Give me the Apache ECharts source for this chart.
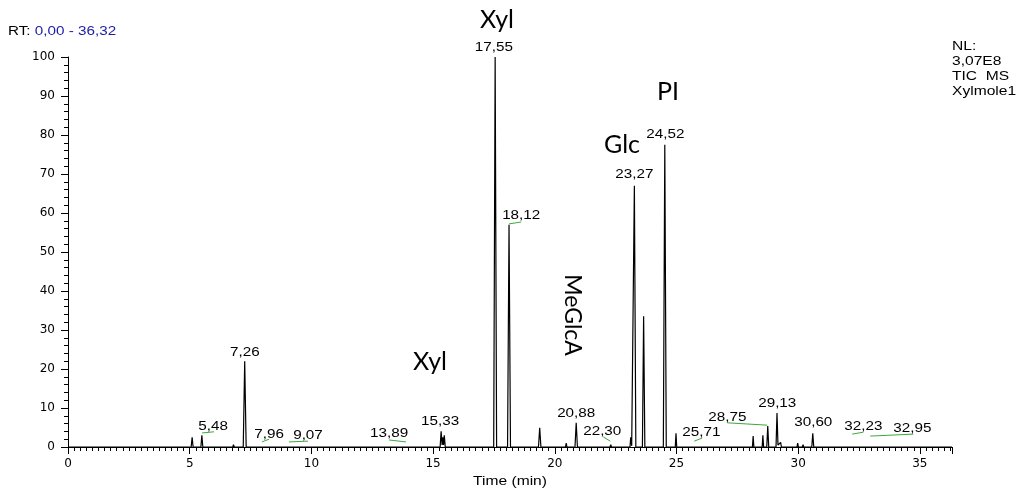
<!DOCTYPE html>
<html><head><meta charset="utf-8">
<script src="https://cdn.jsdelivr.net/npm/echarts@6/dist/echarts.min.js"></script>
<style>html,body{margin:0;padding:0;background:#fff}#c{width:1017px;height:492px}</style>
</head><body><div id="c"></div>
<script>
// Chromatogram trace (time in min, relative abundance %)
const traceTime = [0,
 5.06,5.10,5.14, 5.46,5.50,5.54, 6.77,6.80,6.83, 7.20,7.26,7.32,
 12.77,12.80,12.83, 15.29,15.33,15.37,15.40,15.43,15.46,15.50,
 17.49,17.55,17.61, 18.06,18.12,18.18, 19.33,19.38,19.43,
 20.44,20.47,20.50, 20.83,20.88,20.93, 21.28,21.30,21.32, 21.58,21.60,21.62,
 22.27,22.30,22.33, 23.09,23.12,23.16, 23.21,23.27,23.33, 23.60,23.65,23.70,
 24.46,24.52,24.58, 24.95,24.98,25.01, 25.68,25.71,25.74,
 28.12,28.15,28.18, 28.52,28.55,28.58, 28.71,28.75,28.79,
 29.09,29.13,29.17,29.25,29.28,29.31, 29.60,29.63,29.66, 29.95,29.98,30.01,
 30.17,30.20,30.23, 30.56,30.60,30.64, 36.32];
const traceIntensity = [0,
 0,2.5,0, 0,3.0,0, 0,0.6,0, 0,22,0,
 0,0.5,0, 0,4.0,0.5,2.5,0.5,3.0,0,
 0,100,0, 0,57,0, 0,4.9,0,
 0,1.0,0, 0,6.2,0, 0,0.3,0, 0,0.3,0,
 0,0.6,0, 0,2.5,0.3, 0,67,0, 0,33.5,0,
 0,77.5,0, 0,3.5,0, 0,0.5,0,
 0,2.8,0, 0,3.0,0, 0,5.4,0,
 0,8.7,0.5,0,1.2,0, 0,0.5,0, 0,1.0,0,
 0,0.6,0, 0,3.5,0, 0];

// Peak labels (text, anchor time, anchor intensity)
const peakLabelText = ["5,48","7,26","7,96","9,07","13,89","15,33","17,55","18,12","20,88","22,30","23,27","24,52","25,71","28,75","29,13","30,60","32,23","32,95"];
const peakLabelTime = [5.96,7.27,8.26,9.86,13.19,15.29,17.50,18.62,20.88,21.95,23.27,24.54,26.02,27.09,29.14,30.62,32.68,34.69];
const peakLabelInt  = [5.1,24.1,3.1,2.8,3.3,6.4,102.3,59.2,8.5,3.8,69.7,80.0,3.6,7.4,11.0,6.2,5.1,4.6];

// Green baseline segments
const baseSegStartT = [5.51,7.97,9.08,13.19,18.12,21.99,25.73,27.09,32.22,32.96];
const baseSegStartI = [3.6,1.3,1.3,1.8,57.2,2.6,1.5,6.2,3.3,2.8];
const baseSegEndT   = [6.00,8.26,9.86,13.89,18.62,22.28,26.06,28.73,32.68,34.73];
const baseSegEndI   = [3.9,2.0,1.5,1.3,57.7,1.5,2.3,5.6,3.8,3.3];

const xTicks = [0,5,10,15,20,25,30,35];
const yTicks = [0,10,20,30,40,50,60,70,80,90,100];

const chart = echarts.init(document.getElementById('c'), null, {renderer:'canvas'});
const FONT = '"Liberation Sans", Arial, sans-serif';
const AXF = '"DejaVu Sans", sans-serif';
const BIG = 'Lato, "Open Sans", sans-serif';

const segSeries = baseSegStartT.map((t,i)=>({
  type:'line', silent:true, symbol:'none', animation:false, z:1,
  lineStyle:{color:'#3aaa3a', width:1},
  data:[[t, baseSegStartI[i]],[baseSegEndT[i], baseSegEndI[i]]]
}));

chart.setOption({
  animation:false,
  backgroundColor:'#fff',
  grid:{left:68, right:65, top:57, bottom:45},
  xAxis:{
    type:'value', min:0, max:36.32, interval:5,
    axisLine:{onZero:false, lineStyle:{color:'#000', width:1}},
    axisTick:{show:true, length:7, lineStyle:{color:'#000'}},
    minorTick:{show:true, splitNumber:20, length:4, lineStyle:{color:'#000'}},
    splitLine:{show:false},
    axisLabel:{fontFamily:AXF, fontSize:12, color:'#000', margin:11, showMaxLabel:false,
      formatter:v=> xTicks.indexOf(v)>=0 ? String(v) : ''}
  },
  yAxis:{
    type:'value', min:0, max:100, interval:10,
    axisLine:{show:true, lineStyle:{color:'#000', width:1}},
    axisTick:{show:true, length:7, lineStyle:{color:'#000'}},
    minorTick:{show:true, splitNumber:5, length:4, lineStyle:{color:'#000'}},
    splitLine:{show:false},
    axisLabel:{fontFamily:AXF, fontSize:12, color:'#000', margin:13,
      formatter:v=> yTicks.indexOf(v)>=0 ? String(v) : ''}
  },
  series:[
    ...segSeries,
    {type:'line', symbol:'none', z:3, clip:false,
     lineStyle:{color:'#000', width:1.2},
     data: traceTime.map((t,i)=>[t, traceIntensity[i]])}
  ]
});

// peak labels positioned through the chart's own scales
const labelGraphics = peakLabelText.map((txt,i)=>{
  const p = chart.convertToPixel({gridIndex:0}, [peakLabelTime[i], peakLabelInt[i]]);
  return {type:'text', x:p[0], y:p[1], scaleX:1.27, z:10,
    style:{text:txt, font:'12px '+FONT, fill:'#000', align:'center', verticalAlign:'middle'}};
});

chart.setOption({
  graphic:[
    ...labelGraphics,
    {type:'text', x:8, y:32, scaleX:1.27, style:{text:'{a|RT:} {b|0,00 - 36,32}', font:'12px '+FONT, verticalAlign:'middle',
      rich:{a:{fill:'#000', fontFamily:FONT, fontSize:12}, b:{fill:'#1c1ca8', fontFamily:FONT, fontSize:12}}}},
    {type:'text', x:952, y:39, scaleX:1.3, style:{text:'NL:\n3,07E8\nTIC  MS\nXylmole1', font:'12px '+FONT, fill:'#000', lineHeight:15, verticalAlign:'top'}},
    {type:'text', x:510, y:482, scaleX:1.3, style:{text:'Time (min)', font:'12px '+FONT, fill:'#000', align:'center', verticalAlign:'middle'}},
    {type:'text', x:497, y:20, style:{text:'Xyl', font:'25px '+BIG, fill:'#000', align:'center', verticalAlign:'middle'}},
    {type:'text', x:430, y:362, style:{text:'Xyl', font:'25px '+BIG, fill:'#000', align:'center', verticalAlign:'middle'}},
    {type:'text', x:622, y:145, style:{text:'Glc', font:'25px '+BIG, fill:'#000', align:'center', verticalAlign:'middle'}},
    {type:'text', x:668, y:92, style:{text:'PI', font:'25px '+BIG, fill:'#000', align:'center', verticalAlign:'middle'}},
    {type:'text', x:572, y:315, rotation:-Math.PI/2, style:{text:'MeGlcA', font:'23px '+BIG, fill:'#000', align:'center', verticalAlign:'middle'}}
  ]
});
</script></body></html>
